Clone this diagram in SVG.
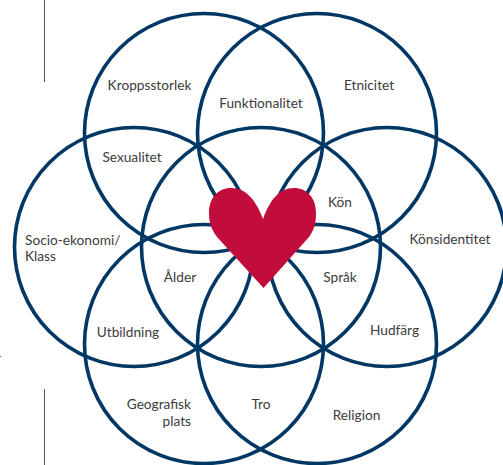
<svg xmlns="http://www.w3.org/2000/svg" width="503" height="465" viewBox="0 0 503 465">
<style>
.c{fill:none;stroke:#003764;stroke-width:3.6}
.t{font-family:"Lato","Noto Sans",sans-serif;font-size:13.7px;fill:#3c3c3c}
.r{stroke:#555;stroke-width:1;fill:none}
</style>
<rect width="503" height="465" fill="#fff"/>
<g id="rules">
<path class="r" d="M44.5 0V82M44.5 389V465M0 356.500H1"/>
</g>
<g id="connectors">
<circle class="c" cx="204" cy="133" r="119.500"/>
<circle class="c" cx="317" cy="133" r="119.500"/>
<circle class="c" cx="134" cy="247" r="119.500"/>
<circle class="c" cx="387" cy="247" r="119.500"/>
<circle class="c" cx="261" cy="247" r="119.500"/>
<circle class="c" cx="204" cy="344" r="119.500"/>
<circle class="c" cx="317" cy="344" r="119.500"/>
</g>
<g id="heart">
<path fill="#c20c3b" d="M263.500 288L217 237C212 230 209 224 209 213C209 198 218 188 231 188C246 188 256 200 263 219C270 200 279 188 294 188C307 188 316 198 316 213C316 224 314 230 309 237Z"/>
</g>
<g id="n1"><text class="t" x="149.500" y="90" text-anchor="middle">Kroppsstorlek</text></g>
<g id="n2"><text class="t" x="261" y="108" text-anchor="middle">Funktionalitet</text></g>
<g id="n3"><text class="t" x="369" y="90" text-anchor="middle">Etnicitet</text></g>
<g id="n4"><text class="t" x="132" y="162" text-anchor="middle">Sexualitet</text></g>
<g id="n5"><text class="t" x="340" y="207" text-anchor="middle">Kön</text></g>
<g id="n6"><text class="t" x="25" y="245">Socio-ekonomi/</text><text class="t" x="25" y="261">Klass</text></g>
<g id="n7"><text class="t" x="450" y="244" text-anchor="middle">Könsidentitet</text></g>
<g id="n8"><text class="t" x="180" y="282" text-anchor="middle">Ålder</text></g>
<g id="n9"><text class="t" x="340" y="282" text-anchor="middle">Språk</text></g>
<g id="n10"><text class="t" x="128" y="337" text-anchor="middle">Utbildning</text></g>
<g id="n11"><text class="t" x="394.500" y="335" text-anchor="middle">Hudfärg</text></g>
<g id="n12"><text class="t" x="191" y="409" text-anchor="end">Geografisk</text><text class="t" x="191" y="426" text-anchor="end">plats</text></g>
<g id="n13"><text class="t" x="261" y="409" text-anchor="middle">Tro</text></g>
<g id="n14"><text class="t" x="356.500" y="420" text-anchor="middle">Religion</text></g>
</svg>
